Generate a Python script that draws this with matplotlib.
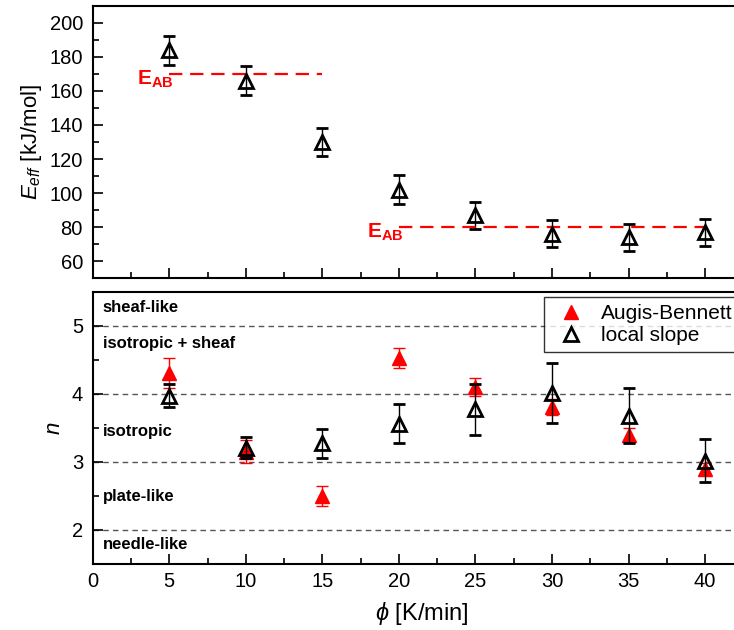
import matplotlib
matplotlib.use('Agg')
import matplotlib.pyplot as plt
import numpy as np

plt.rcParams['font.family'] = ['Liberation Sans', 'DejaVu Sans']
plt.rcParams['mathtext.fontset'] = 'custom'
plt.rcParams['mathtext.rm'] = 'Liberation Sans'
plt.rcParams['mathtext.it'] = 'Liberation Sans:italic'
plt.rcParams['mathtext.bf'] = 'Liberation Sans:bold'

# heating rates
phi = [5, 10, 15, 20, 25, 30, 35, 40]

# effective activation energy (local slope)
E_eff = [184, 166, 130, 102, 87, 76, 74, 77]
E_err = [8.5, 8.5, 8, 8.5, 8, 8, 8, 8]

# Augis-Bennett activation energies
E_AB_low = [5, 15, 170]
E_AB_high = [20, 40, 80]

# Avrami exponent
n_ab = [4.31, 3.15, 2.50, 4.53, 4.10, 3.81, 3.39, 2.90]
n_ab_err = [0.22, 0.17, 0.15, 0.15, 0.13, 0.12, 0.11, 0.08]
n_ls = [3.97, 3.21, 3.27, 3.56, 3.77, 4.01, 3.68, 3.02]
n_ls_err = [0.17, 0.16, 0.21, 0.29, 0.37, 0.44, 0.41, 0.31]

band_lines = [2, 3, 4, 5]
band_names = ['sheaf-like', 'isotropic + sheaf', 'isotropic', 'plate-like', 'needle-like']
band_y = [5.27, 4.74, 3.44, 2.49, 1.79]

fig = plt.figure(figsize=(7.34, 6.3), dpi=100)
ax1 = fig.add_axes([0.1263, 0.5587, 0.897, 0.4318])
ax2 = fig.add_axes([0.1263, 0.1048, 0.897, 0.4322])

for ax in (ax1, ax2):
    ax.set_xlim(0, 43)
    ax.tick_params(direction='in', which='major', length=7, width=1.2, labelsize=14.5, pad=7)
    ax.tick_params(direction='in', which='minor', length=4, width=1.2)
    ax.xaxis.set_major_locator(plt.MultipleLocator(5))
    ax.xaxis.set_minor_locator(plt.MultipleLocator(2.5))
    for s in ax.spines.values():
        s.set_linewidth(1.5)

# top panel
ax1.set_ylim(50, 210)
ax1.yaxis.set_major_locator(plt.MultipleLocator(20))
ax1.yaxis.set_minor_locator(plt.MultipleLocator(10))
ax1.tick_params(labelbottom=False)
ax1.errorbar(phi, E_eff, yerr=E_err, fmt='^', ms=10, mfc='none', mec='black',
             mew=2, ecolor='black', elinewidth=1, capsize=4, capthick=1)
ax1.plot(E_AB_low[:2], [E_AB_low[2]] * 2, color='red', lw=1.6, dashes=(6, 3.5))
ax1.plot(E_AB_high[:2], [E_AB_high[2]] * 2, color='red', lw=1.6, dashes=(6, 3.5))
ax1.text(5.3, 167, r'$\mathbf{E_{AB}}$', color='red', fontsize=15, ha='right', va='center')
ax1.text(20.3, 77, r'$\mathbf{E_{AB}}$', color='red', fontsize=15, ha='right', va='center')
ax1.set_ylabel(r'$E_{eff}$ [kJ/mol]', fontsize=16, labelpad=4)

# bottom panel
ax2.set_ylim(1.5, 5.5)
ax2.yaxis.set_major_locator(plt.MultipleLocator(1))
ax2.yaxis.set_minor_locator(plt.MultipleLocator(0.5))
ax2.tick_params(axis='x', pad=6)
for yl in band_lines:
    ax2.axhline(yl, color='#555555', lw=1, dashes=(4, 3), zorder=1)
for name, yb in zip(band_names, band_y):
    ax2.text(0.65, yb, name, fontsize=12, fontweight='bold', va='center', ha='left')
ax2.errorbar(phi, n_ab, yerr=n_ab_err, fmt='^', ms=10, mfc='red', mec='red',
             ecolor='red', elinewidth=1, capsize=4, capthick=1, label='Augis-Bennett', zorder=3)
ax2.errorbar(phi, n_ls, yerr=n_ls_err, fmt='^', ms=10, mfc='none', mec='black', mew=2,
             ecolor='black', elinewidth=1, capsize=4, capthick=1, label='local slope', zorder=4)
ax2.set_ylabel(r'$n$', fontsize=16, labelpad=5)
ax2.set_xlabel(r'$\phi$ [K/min]', fontsize=17, labelpad=6.5)

handles, labels = ax2.get_legend_handles_labels()
handles = [h[0] for h in handles]
leg = ax2.legend(handles, labels, loc='upper left', bbox_to_anchor=(0.685, 0.982),
                 fontsize=15, frameon=True, fancybox=False, edgecolor='black',
                 handlelength=1.9, handletextpad=0.5, borderpad=0.35, labelspacing=0.15,
                 borderaxespad=0)
leg.get_frame().set_linewidth(1)

fig.savefig('out.png', dpi=100)
